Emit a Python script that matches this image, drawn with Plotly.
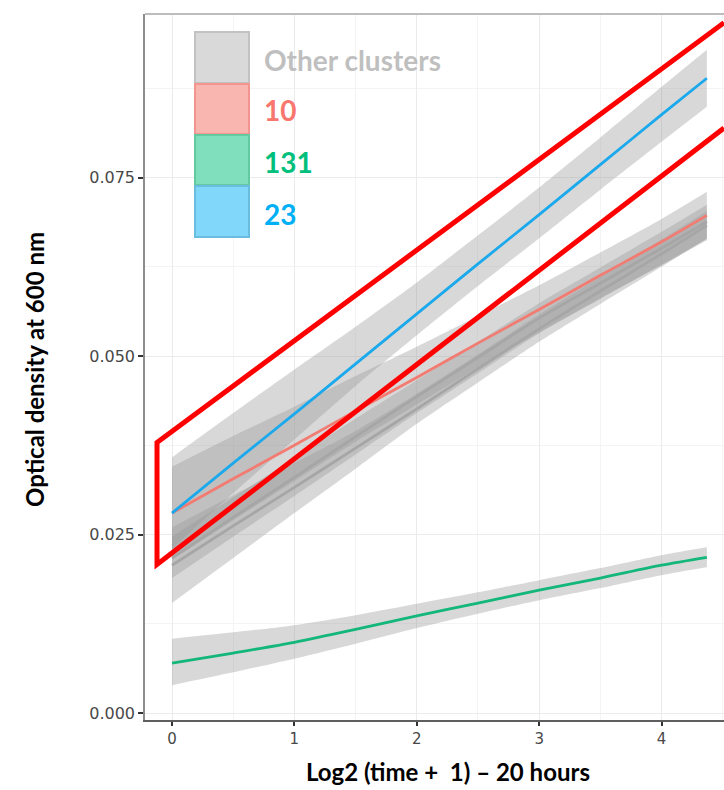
import plotly.graph_objects as go

# Smoothed growth curves (x = log2(time + 1) - 20 h, y = OD600)
x_pts = [0, 0.5, 1, 1.5, 2, 2.5, 3, 3.5, 4, 4.37]

blue_fit = [0.0280, 0.0350, 0.0419, 0.0489, 0.0559, 0.0629, 0.0698, 0.0768, 0.0838, 0.0889]
blue_hi = [0.0358, 0.0420, 0.0481, 0.0541, 0.0603, 0.0669, 0.0736, 0.0806, 0.0877, 0.0929]
blue_lo = [0.0230, 0.0308, 0.0383, 0.0458, 0.0529, 0.0598, 0.0665, 0.0733, 0.0800, 0.0849]

red_fit = [0.0280, 0.0328, 0.0375, 0.0423, 0.0470, 0.0518, 0.0565, 0.0613, 0.0660, 0.0697]
red_hi = [0.0345, 0.0388, 0.0429, 0.0472, 0.0513, 0.0556, 0.0599, 0.0645, 0.0692, 0.0730]
red_lo = [0.0215, 0.0270, 0.0325, 0.0380, 0.0432, 0.0484, 0.0533, 0.0581, 0.0627, 0.0662]

grey_a_fit = [0.0217, 0.0274, 0.0330, 0.0387, 0.0443, 0.0498, 0.0553, 0.0602, 0.0651, 0.0688]
grey_a_hi = [0.0247, 0.0302, 0.0357, 0.0412, 0.0466, 0.0520, 0.0574, 0.0624, 0.0674, 0.0712]
grey_a_lo = [0.0189, 0.0247, 0.0304, 0.0362, 0.0420, 0.0476, 0.0532, 0.0580, 0.0628, 0.0664]

grey_b_fit = [0.0207, 0.0262, 0.0316, 0.0371, 0.0426, 0.0482, 0.0538, 0.0591, 0.0643, 0.0683]
grey_b_hi = [0.0260, 0.0305, 0.0350, 0.0395, 0.0447, 0.0502, 0.0558, 0.0611, 0.0663, 0.0703]
grey_b_lo = [0.0154, 0.0217, 0.0280, 0.0342, 0.0405, 0.0463, 0.0520, 0.0573, 0.0625, 0.0665]

green_fit = [0.0070, 0.0084, 0.0099, 0.0117, 0.0136, 0.0154, 0.0172, 0.0189, 0.0207, 0.0218]
green_hi = [0.0104, 0.0113, 0.0123, 0.0137, 0.0153, 0.0169, 0.0186, 0.0203, 0.0221, 0.0232]
green_lo = [0.0039, 0.0057, 0.0076, 0.0097, 0.0119, 0.0139, 0.0158, 0.0175, 0.0193, 0.0204]

x_ticks = [0, 1, 2, 3, 4]
y_ticks = [0.000, 0.025, 0.050, 0.075]
y_tick_text = ["0.000", "0.025", "0.050", "0.075"]

legend_labels = ["Other clusters", "10", "131", "23"]
legend_text_colors = ["#bfbfbf", "#f8766d", "#00bf7d", "#00b0f6"]
legend_fills = ["#d9d9d9", "#f9b6b1", "#80dfbd", "#80d7fa"]
legend_edges = ["#c2c2c2", "#f2958e", "#62c9a1", "#6bbde0"]

RIBBON = "rgba(153,153,153,0.38)"

fig = go.Figure()

for lo, hi in [(grey_b_lo, grey_b_hi), (grey_a_lo, grey_a_hi), (red_lo, red_hi),
               (green_lo, green_hi), (blue_lo, blue_hi)]:
    fig.add_trace(go.Scatter(x=x_pts, y=lo, mode="lines",
                             line=dict(width=0, shape="spline", smoothing=0.8),
                             hoverinfo="skip", showlegend=False))
    fig.add_trace(go.Scatter(x=x_pts, y=hi, mode="lines",
                             line=dict(width=0, shape="spline", smoothing=0.8),
                             fill="tonexty", fillcolor=RIBBON,
                             hoverinfo="skip", showlegend=False))

for ys, col in [(grey_b_fit, "#a6a6a6"), (grey_a_fit, "#a6a6a6"),
                (red_fit, "#f27b72"), (green_fit, "#13b77a"), (blue_fit, "#1aa9ec")]:
    fig.add_trace(go.Scatter(x=x_pts, y=ys, mode="lines",
                             line=dict(color=col, width=2.8, shape="spline", smoothing=0.8),
                             showlegend=False))

# highlighted region
shape_x = [4.51, -0.1225, -0.1225, 4.51]
shape_y = [0.09669, 0.0379, 0.0208, 0.08193]
path = "M {} {} L {} {} L {} {} L {} {}".format(
    shape_x[0], shape_y[0], shape_x[1], shape_y[1],
    shape_x[2], shape_y[2], shape_x[3], shape_y[3])
fig.add_shape(type="path", path=path, xref="x", yref="y",
              line=dict(color="#ff0000", width=5), layer="above")

# top border of the panel
fig.add_shape(type="line", xref="paper", yref="paper", x0=0, x1=1, y0=1, y1=1,
              line=dict(color="#bdbdbd", width=2))

# legend keys and labels (pixel layout converted to paper units)
L, T, W, H = 145, 14, 579, 706
key_top = [32, 84, 135, 186]
key_bot = [83, 134, 185, 237]
label_y = [60, 110, 162, 214]
for i, lab in enumerate(legend_labels):
    fig.add_shape(type="rect", xref="paper", yref="paper",
                  x0=(195 - L) / W, x1=(249 - L) / W,
                  y0=(T + H - key_bot[i]) / H, y1=(T + H - key_top[i]) / H,
                  fillcolor=legend_fills[i], line=dict(color=legend_edges[i], width=2))
    fig.add_annotation(xref="paper", yref="paper", x=(262 - L) / W,
                       y=(T + H - label_y[i]) / H, text="<b>" + lab + "</b>",
                       showarrow=False, xanchor="left", yanchor="middle",
                       font=dict(family="Lato", size=28, color=legend_text_colors[i]))

# axis titles
fig.add_annotation(xref="paper", yref="paper", x=(448 - L) / W, y=(T + H - 771) / H,
                   text="<b>Log2 (time +  1) – 20 hours</b>", showarrow=False,
                   xanchor="center", yanchor="middle",
                   font=dict(family="Lato", size=24, color="#000000"))
fig.add_annotation(xref="paper", yref="paper", x=(34 - L) / W, y=(T + H - 370) / H,
                   text="<b>Optical density at 600 nm</b>", showarrow=False, textangle=-90,
                   xanchor="center", yanchor="middle",
                   font=dict(family="Lato", size=24, color="#000000"))

fig.update_layout(
    width=724, height=790,
    margin=dict(l=L, r=0, t=T, b=790 - T - H, pad=0),
    plot_bgcolor="white", paper_bgcolor="white",
    showlegend=False,
    xaxis=dict(range=[-0.2206, 4.510], tickvals=x_ticks, ticktext=[str(v) for v in x_ticks],
               showgrid=True, gridcolor="#ebebeb", gridwidth=1.3,
               minor=dict(dtick=0.5, tick0=0.5, showgrid=True, gridcolor="#f4f4f4", gridwidth=1),
               showline=True, linecolor="#5f5f5f", linewidth=1.5,
               ticks="outside", ticklen=4, tickwidth=1.5, tickcolor="#333333",
               tickfont=dict(family="DejaVu Sans", size=15, color="#484848"),
               zeroline=False),
    yaxis=dict(range=[-0.00098, 0.0979], tickvals=y_ticks, ticktext=y_tick_text,
               showgrid=True, gridcolor="#ebebeb", gridwidth=1.3,
               minor=dict(dtick=0.0125, tick0=0.0125, showgrid=True, gridcolor="#f4f4f4", gridwidth=1),
               showline=True, linecolor="#8c8c8c", linewidth=1.5,
               ticks="outside", ticklen=5, tickwidth=1.5, tickcolor="#333333",
               tickfont=dict(family="DejaVu Sans", size=16, color="#484848"),
               zeroline=False),
)

fig.write_html("out.html")
